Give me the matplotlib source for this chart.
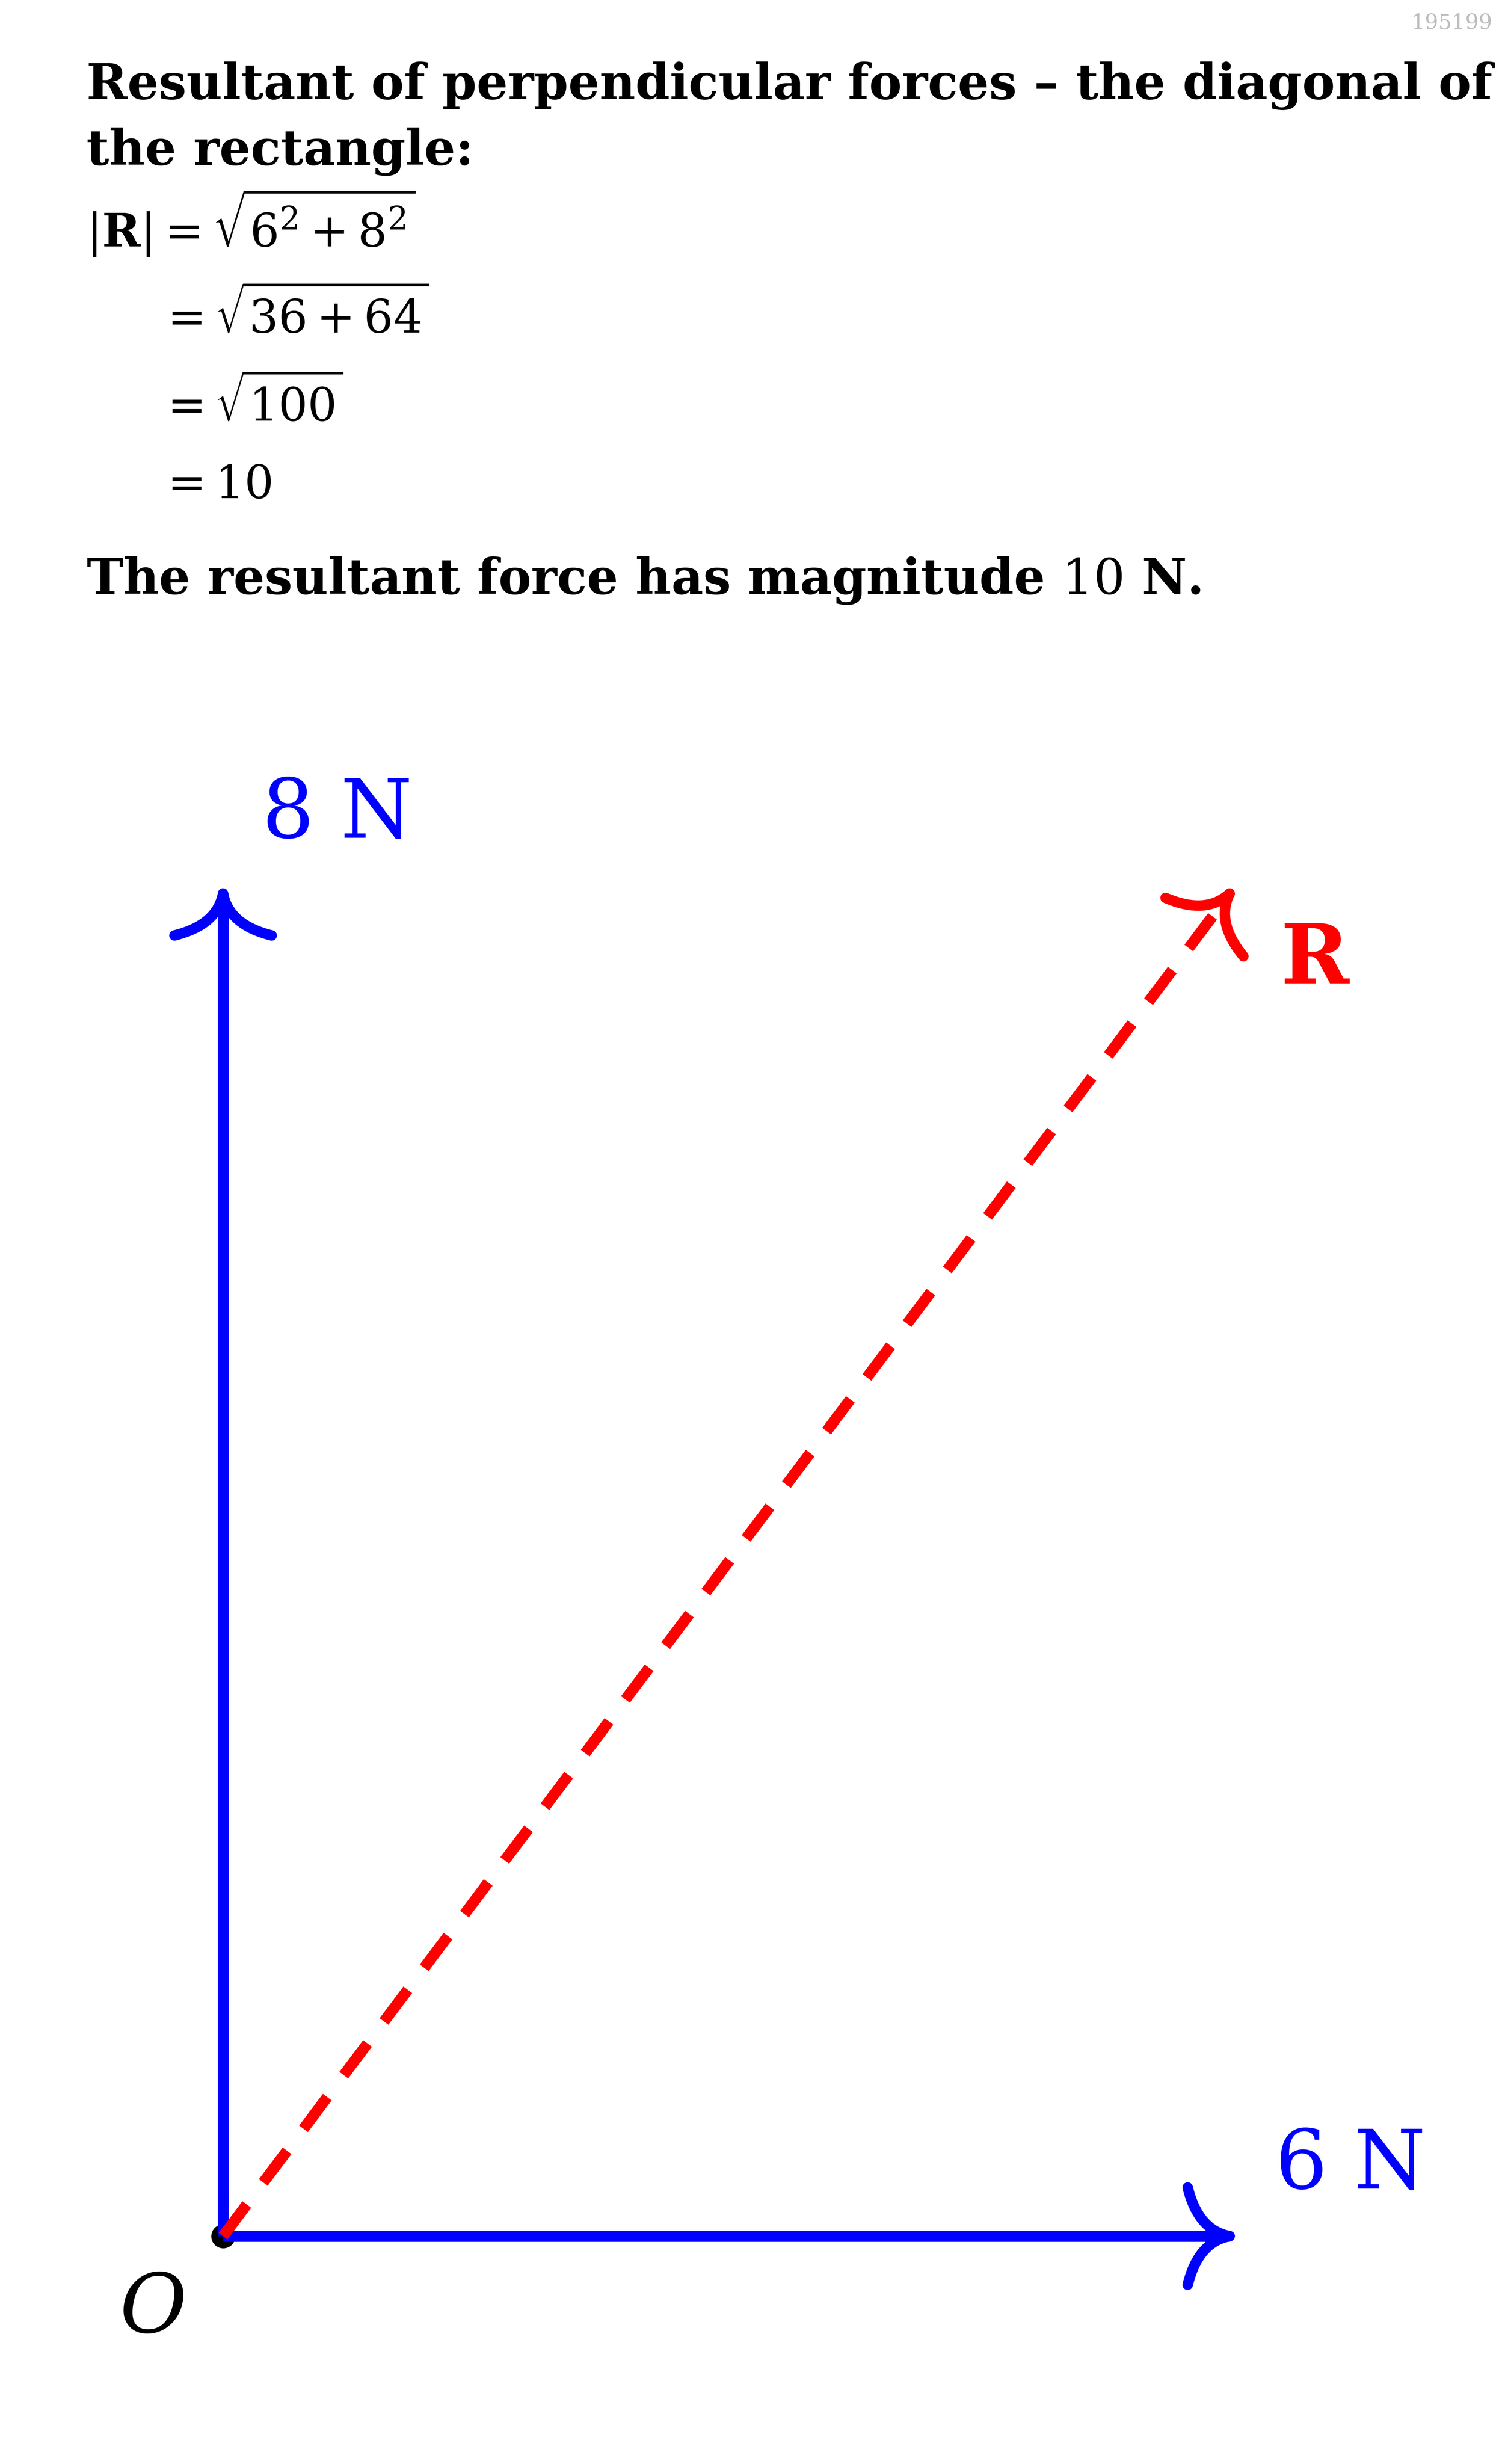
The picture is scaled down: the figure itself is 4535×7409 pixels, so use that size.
import numpy as np
import matplotlib
matplotlib.use('Agg')
import matplotlib.pyplot as plt
from matplotlib.path import Path
from matplotlib.patches import PathPatch

# force components (N) and resultant
force_x = [6, 0]
force_y = [0, 8]
force_labels = ['6 N', '8 N']
resultant = [6, 8]
resultant_label = r'$\mathbf{R}$'

calc_lines = [r'$|\mathbf{R}| = \sqrt{6^2+8^2}$',
              r'$= \sqrt{36+64}$',
              r'$= \sqrt{100}$',
              r'$= 10$']
title_lines = ['Resultant of perpendicular forces \u2013 the diagonal of',
               'the rectangle:']
answer = r'The resultant force has magnitude $10$ N.'

BLUE = '#0000ff'
RED = '#ff0000'
W, H = 4535, 7409
DISP = 4535 / 960.0  # reference preview scale

plt.rcParams['font.family'] = ['DejaVu Serif']
plt.rcParams['mathtext.fontset'] = 'dejavuserif'

fig = plt.figure(figsize=(W / 100, H / 100), dpi=100)
ax = fig.add_axes([0, 0, 1, 1])
unit = 106.8  # preview px per newton
ax.set_xlim(-142 / unit, (960 - 142) / unit)
ax.set_ylim(-(1568 - 1423) / unit, 1423 / unit)
ax.axis('off')


def fy(y_disp):
    return 1 - y_disp / 1568.0


def fx(x_disp):
    return x_disp / 960.0


def arrow_head(ax, tip, direction, color, back=0.25, half=0.29, lw=22):
    d = np.array(direction, float)
    d = d / np.hypot(*d)
    n = np.array([-d[1], d[0]])
    tip = np.array(tip, float)
    for s in (1, -1):
        p0 = tip
        p1 = tip - d * back * 0.75 + s * n * half * 0.12
        p2 = tip - d * back + s * n * half
        path = Path([p0, p1, p2], [Path.MOVETO, Path.CURVE3, Path.CURVE3])
        ax.add_patch(PathPatch(path, fill=False, ec=color, lw=lw,
                               capstyle='round', joinstyle='round', zorder=3))


lw = 7 * DISP * 0.72

# origin
ax.plot([0], [0], 'o', color='black', ms=15 * DISP * 0.72, zorder=1)

# blue component forces
for x, y in zip(force_x, force_y):
    ax.plot([0, x], [0, y], color=BLUE, lw=lw, solid_capstyle='butt', zorder=2)
    arrow_head(ax, (x, y), (x, y), BLUE, lw=lw * 0.95)

# red dashed resultant
rx, ry = resultant
ax.plot([0, rx * 0.99], [0, ry * 0.99], color=RED, lw=lw, linestyle=(0, (3.6, 2.5)),
        dash_capstyle='butt', zorder=3)
arrow_head(ax, (rx, ry), (rx, ry), RED, lw=lw * 0.95)

lab_size = 178
ax.text(force_x[1] + 0.68, force_y[1] + 0.47, force_labels[1], color=BLUE,
        fontsize=lab_size, ha='center', va='center')
ax.text(force_x[0] + 0.72, force_y[0] + 0.42, force_labels[0], color=BLUE,
        fontsize=lab_size, ha='center', va='center')
ax.text(rx + 0.51, ry - 0.40, resultant_label, color=RED,
        fontsize=lab_size, ha='center', va='center')
ax.text(-0.42, -0.44, r'$O$', color='black', fontsize=lab_size, ha='center', va='center')

# watermark
fig.text(fx(950), fy(15), '195199', color='#bdbdbd', fontsize=46, ha='right', va='center')

# title, fit to width between margins
body = 100
renderer = fig.canvas.get_renderer()
t1 = fig.text(fx(55), fy(63), title_lines[0], fontsize=body, fontweight='bold',
              va='baseline', ha='left')
target = (950 - 55) * DISP
wpx = t1.get_window_extent(renderer).width
body = body * target / wpx
t1.set_fontsize(body)
fig.text(fx(55), fy(105), title_lines[1], fontsize=body, fontweight='bold',
         va='baseline', ha='left')

math_size = 100
calc_y = [157, 212, 268, 317]
calc_x = [55, 101, 101, 101]
for s, x, y in zip(calc_lines, calc_x, calc_y):
    fig.text(fx(x), fy(y), s, fontsize=math_size, va='baseline', ha='left')

fig.text(fx(55), fy(378), answer, fontsize=body, fontweight='bold',
         va='baseline', ha='left')

fig.savefig('out.png', dpi=100)
